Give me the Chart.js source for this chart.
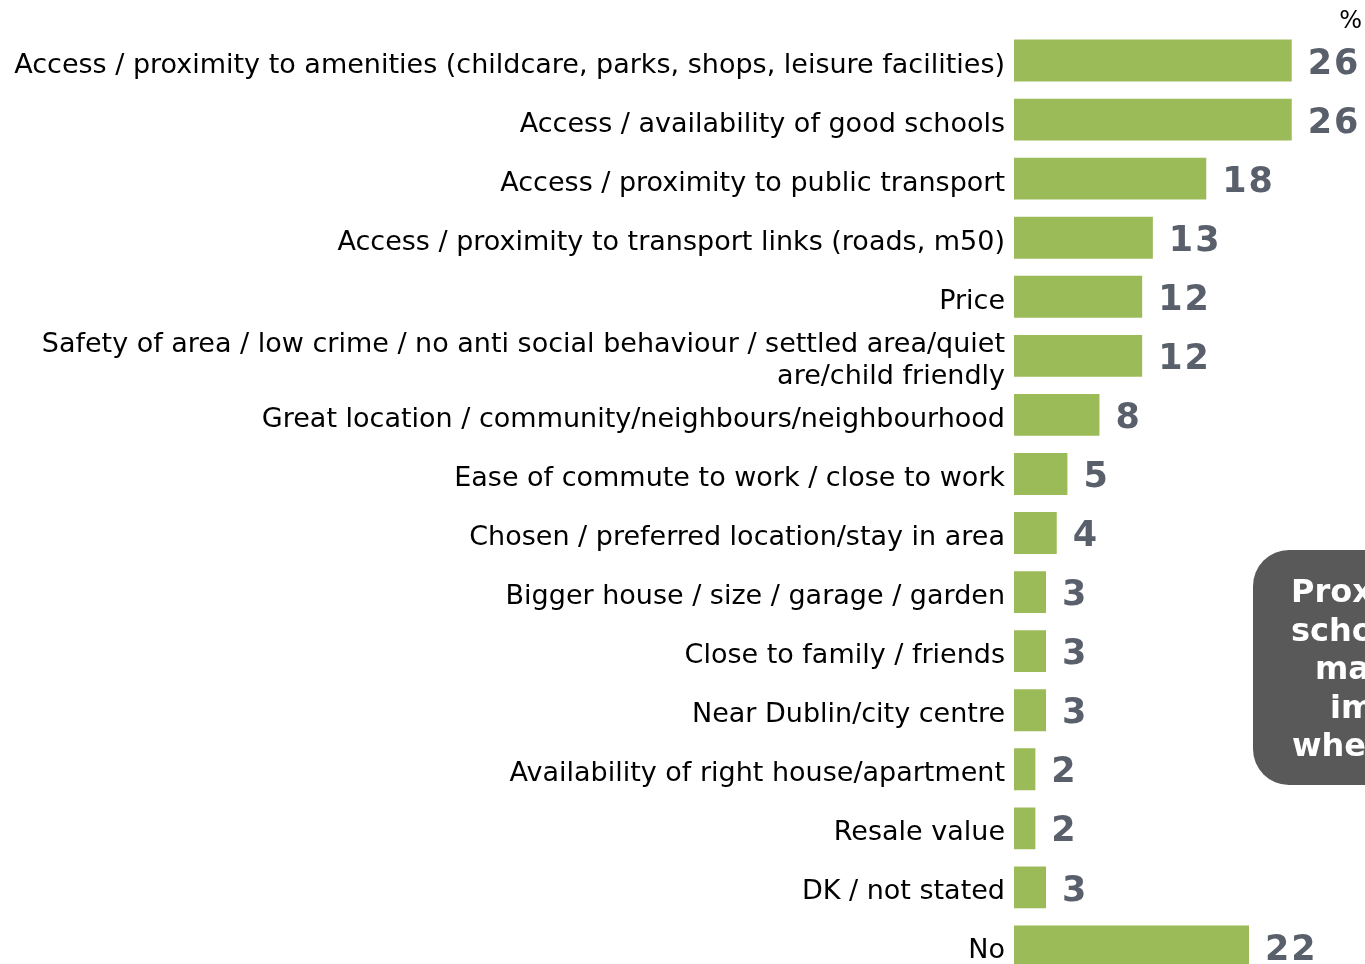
<!DOCTYPE html>
<html>
<head>
<meta charset="utf-8">
<script src="https://cdn.jsdelivr.net/npm/chart.js@4/dist/chart.umd.min.js"></script>
<style>
  html, body { margin: 0; padding: 0; background: #fff; overflow: hidden; }
  #wrap { position: relative; width: 1365px; height: 976px; }
</style>
</head>
<body>
<div id="wrap"><canvas id="myChart" width="1365" height="976"></canvas></div>
<script>
// reasons / values (%)
const reasons = [
  "Access / proximity to amenities (childcare, parks, shops, leisure facilities)",
  "Access / availability of good schools",
  "Access / proximity to public transport",
  "Access / proximity to transport links (roads, m50)",
  "Price",
  ["Safety of area / low crime / no anti social behaviour / settled area/quiet", "are/child friendly"],
  "Great location / community/neighbours/neighbourhood",
  "Ease of commute to work / close to work",
  "Chosen / preferred location/stay in area",
  "Bigger house / size / garage / garden",
  "Close to family / friends",
  "Near Dublin/city centre",
  "Availability of right house/apartment",
  "Resale value",
  "DK / not stated",
  "No"
];
const values = [26, 26, 18, 13, 12, 12, 8, 5, 4, 3, 3, 3, 2, 2, 3, 22];

const calloutLines = ["Proximity to", "schools was a", "main", "important", "when choosing"];

// value labels + "%" + callout box
const extras = {
  id: "extras",
  afterDatasetsDraw(chart) {
    const ctx = chart.ctx;
    const meta = chart.getDatasetMeta(0);
    ctx.save();
    ctx.font = "bold 35px 'DejaVu Sans'";
    ctx.letterSpacing = "2px";
    ctx.fillStyle = "#59606b";
    ctx.textAlign = "left";
    ctx.textBaseline = "middle";
    meta.data.forEach((bar, i) => {
      ctx.fillText(String(values[i]), bar.x + 16, bar.y + 4);
    });
    ctx.letterSpacing = "0px";

    ctx.font = "24px 'DejaVu Sans'";
    ctx.fillStyle = "#000";
    ctx.textAlign = "right";
    ctx.fillText("%", 1362, 22);

    // callout
    ctx.fillStyle = "#595959";
    ctx.beginPath();
    ctx.roundRect(1253, 550, 300, 235, 36);
    ctx.fill();
    ctx.fillStyle = "#ffffff";
    ctx.font = "bold 32px 'DejaVu Sans'";
    ctx.textAlign = "left";
    const starts = [1291, 1291, 1315, 1330, 1292];
    calloutLines.forEach((t, i) => {
      ctx.fillText(t, starts[i], 594 + i * 38.5);
    });
    ctx.restore();
  }
};

const ctx = document.getElementById("myChart").getContext("2d");
const myChart = new Chart(ctx, {
  type: "bar",
  data: {
    labels: reasons,
    datasets: [{
      data: values,
      backgroundColor: "#9bbb59",
      borderWidth: 0,
      barPercentage: 0.71,
      categoryPercentage: 1
    }]
  },
  options: {
    indexAxis: "y",
    responsive: false,
    animation: false,
    layout: { padding: { top: 31, right: 0, bottom: 0, left: 0 } },
    plugins: {
      legend: { display: false },
      tooltip: { enabled: false }
    },
    scales: {
      x: {
        display: false,
        min: 0,
        max: 32.86
      },
      y: {
        grid: { display: false, drawTicks: false },
        border: { display: false },
        afterFit(scale) {
          scale.width = 1014;
          scale.paddingTop = 0;
          scale.paddingBottom = 0;
        },
        ticks: {
          autoSkip: false,
          padding: 9,
          labelOffset: 5,
          color: "#000",
          font: { family: "'DejaVu Sans'", size: 27, lineHeight: 1.19 }
        }
      }
    }
  },
  plugins: [extras]
});
</script>
</body>
</html>
